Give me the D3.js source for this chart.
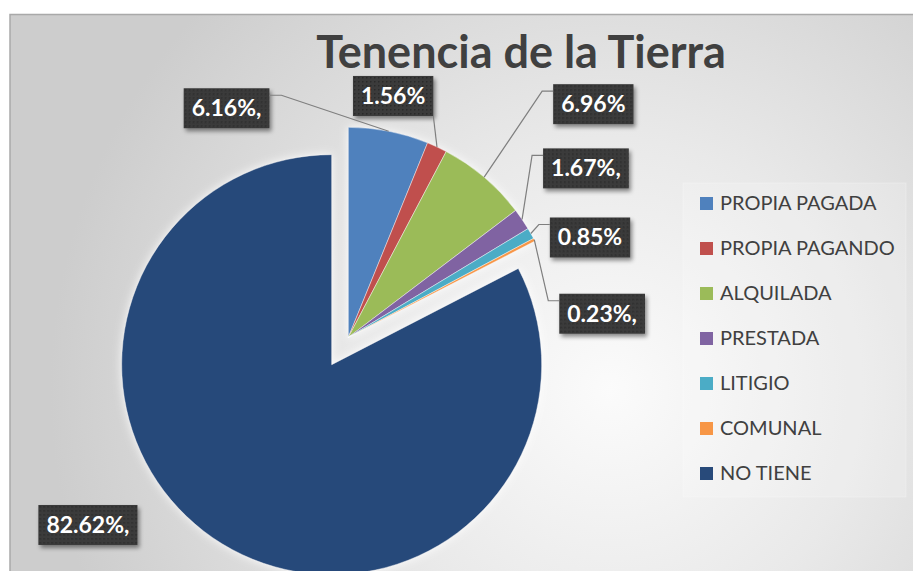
<!DOCTYPE html>
<meta charset="utf-8">
<style>
body { margin: 0; background: #fff; }
text { font-family: Lato, "Open Sans", sans-serif; }
</style>
<svg width="913" height="571"></svg>
<script src="https://d3js.org/d3.v7.min.js"></script>
<script>

var categories = ["PROPIA PAGADA", "PROPIA PAGANDO", "ALQUILADA", "PRESTADA", "LITIGIO", "COMUNAL", "NO TIENE"];
var values = [6.16, 1.56, 6.96, 1.67, 0.85, 0.23, 82.62];
var labels = ["6.16%,", "1.56%", "6.96%", "1.67%,", "0.85%", "0.23%,", "82.62%,"];
var colors = ["#4f81bd", "#c0504d", "#9bbb59", "#8064a2", "#4bacc6", "#f79646", "#284a7a"];

// where each label box sits, relative to the middle of its slice's outer edge
var labelOffset = [[-205, -43], [-84, -71], [69, -93], [21, -71], [19, -16], [25, 54], [-184, -39]];
var leaderSide = ["right", "corner", "left", "left", "left", "left", "none"];

var svg = d3.select("svg"),
    width = +svg.attr("width"),
    height = +svg.attr("height");

var radius = 210, cx = 340, cy = 351, explode = 16;

var defs = svg.append("defs");

var bg = defs.append("radialGradient")
    .attr("id", "bg")
    .attr("gradientUnits", "userSpaceOnUse")
    .attr("cx", 610).attr("cy", 390).attr("r", 560);
bg.append("stop").attr("offset", "0%").attr("stop-color", "#fbfbfb");
bg.append("stop").attr("offset", "45%").attr("stop-color", "#e9e9e9");
bg.append("stop").attr("offset", "100%").attr("stop-color", "#cdcdcd");

var dots = defs.append("pattern")
    .attr("id", "dots")
    .attr("width", 4).attr("height", 4)
    .attr("patternUnits", "userSpaceOnUse");
dots.append("rect").attr("width", 4).attr("height", 4).attr("fill", "#3a3a3a");
dots.append("rect").attr("x", 1).attr("y", 1).attr("width", 1.5).attr("height", 1.5).attr("fill", "#2b2b2b");

var shadow = defs.append("filter").attr("id", "shadow")
    .attr("x", "-20%").attr("y", "-20%").attr("width", "150%").attr("height", "160%");
shadow.append("feDropShadow")
    .attr("dx", 2).attr("dy", 3).attr("stdDeviation", 2)
    .attr("flood-color", "#000").attr("flood-opacity", 0.45);

var glow = defs.append("filter").attr("id", "glow")
    .attr("x", "-20%").attr("y", "-20%").attr("width", "140%").attr("height", "140%");
glow.append("feDropShadow")
    .attr("dx", 0).attr("dy", 0).attr("stdDeviation", 5)
    .attr("flood-color", "#fff").attr("flood-opacity", 0.9);

// chart area
svg.append("rect")
    .attr("x", 10).attr("y", 14)
    .attr("width", width - 10).attr("height", height - 14)
    .attr("fill", "url(#bg)");
svg.append("path")
    .attr("d", "M10," + height + "V14.5H" + width)
    .attr("fill", "none")
    .attr("stroke", "#a9a9a9")
    .attr("stroke-width", 1.5);

svg.append("text")
    .attr("x", 521)
    .attr("y", 68)
    .attr("text-anchor", "middle")
    .attr("font-size", 45)
    .attr("font-weight", "bold")
    .attr("fill", "#404040")
    .text("Tenencia de la Tierra");

var pie = d3.pie().sort(null).value(function(d) { return d; });
var arcs = pie(values);
var arc = d3.arc().innerRadius(0).outerRadius(radius);

// the six small slices are pulled out together, NO TIENE the other way
var split = arcs[arcs.length - 2].endAngle;
function groupCenter(i) {
  var a = i < arcs.length - 1 ? split / 2 : (split + 2 * Math.PI) / 2;
  return [cx + explode * Math.sin(a), cy - explode * Math.cos(a)];
}
function edgeMid(d, i) {
  var c = groupCenter(i), a = (d.startAngle + d.endAngle) / 2;
  return [c[0] + radius * Math.sin(a), c[1] - radius * Math.cos(a)];
}

svg.append("g")
    .attr("filter", "url(#glow)")
  .selectAll("path")
  .data(arcs)
  .enter().append("path")
    .attr("transform", function(d, i) { return "translate(" + groupCenter(i) + ")"; })
    .attr("fill", function(d, i) { return colors[i]; })
    .attr("stroke", "#fff")
    .attr("stroke-width", 0.4)
    .attr("d", arc);

// data labels
var lab = svg.append("g").selectAll("g")
  .data(arcs)
  .enter().append("g")
    .attr("transform", function(d, i) {
      var p = edgeMid(d, i);
      return "translate(" + (p[0] + labelOffset[i][0]) + "," + (p[1] + labelOffset[i][1]) + ")";
    });

lab.append("rect")
    .attr("class", "box")
    .attr("height", 40)
    .attr("fill", "url(#dots)")
    .attr("filter", "url(#shadow)");

lab.append("text")
    .attr("x", 8)
    .attr("y", 28)
    .attr("font-size", 23)
    .attr("font-weight", "bold")
    .attr("fill", "#fff")
    .text(function(d, i) { return labels[i]; });

lab.each(function(d, i) {
  var g = d3.select(this);
  var w = g.select("text").node().getComputedTextLength() + 16;
  g.select("rect").attr("width", w);
  d.boxW = w;
});

// leader lines
svg.append("g").selectAll("polyline")
  .data(arcs.filter(function(d, i) { return leaderSide[i] != "none"; }))
  .enter().append("polyline")
    .attr("fill", "none")
    .attr("stroke", "#7f7f7f")
    .attr("stroke-width", 1.2)
    .attr("points", function(d) {
      var i = d.index, p = edgeMid(d, i);
      var bx = p[0] + labelOffset[i][0], by = p[1] + labelOffset[i][1];
      if (leaderSide[i] == "corner") return [[bx + d.boxW, by + 40], p].join(" ");
      var ax = leaderSide[i] == "right" ? bx + d.boxW : bx;
      var kx = leaderSide[i] == "right" ? ax + 12 : ax - 11;
      return [[ax, by + 7], [kx, by + 7], p].join(" ");
    });

// legend
var ly = d3.scalePoint().domain(categories).range([203, 473]);

svg.append("rect")
    .attr("x", 683).attr("y", 183)
    .attr("width", 223).attr("height", 314)
    .attr("fill", "#fff").attr("fill-opacity", 0.18)
    .attr("stroke", "#fff").attr("stroke-opacity", 0.25);

var leg = svg.append("g").selectAll("g")
  .data(categories)
  .enter().append("g")
    .attr("transform", function(d) { return "translate(700," + ly(d) + ")"; });

leg.append("rect")
    .attr("y", -6)
    .attr("width", 13).attr("height", 13)
    .attr("fill", function(d, i) { return colors[i]; });

leg.append("text")
    .attr("x", 20)
    .attr("y", 7)
    .attr("font-size", 20)
    .attr("fill", "#404040")
    .text(function(d) { return d; });

</script>
